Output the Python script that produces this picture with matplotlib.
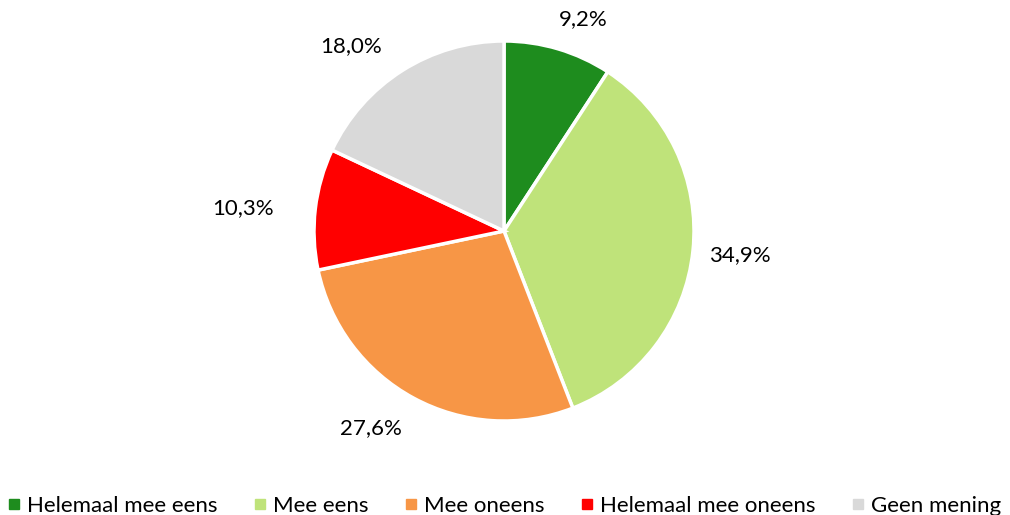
import matplotlib
matplotlib.use('Agg')
import matplotlib.pyplot as plt
from matplotlib.lines import Line2D
import numpy as np

categories = ['Helemaal mee eens', 'Mee eens', 'Mee oneens', 'Helemaal mee oneens', 'Geen mening']
values = [9.2, 34.9, 27.6, 10.3, 18.0]
colors = ['#1E8C1E', '#BFE37A', '#F79646', '#FF0000', '#D9D9D9']
# label placement (distance in radii, angle nudge in degrees)
label_dist = [1.19, 1.25, 1.25, 1.38, 1.26]
label_nudge = [-4, 0, -5.6, 1.7, 7.2]

plt.rcParams['font.family'] = ['Lato', 'DejaVu Sans']

fig = plt.figure(figsize=(10.1, 5.15), dpi=100)
ax = fig.add_axes([(504 - 190) / 1010, (515 - 231 - 190) / 515, 380 / 1010, 380 / 515])

wedges, texts = ax.pie(values, colors=colors, startangle=90, counterclock=False,
                       wedgeprops=dict(edgecolor='white', linewidth=2.5))
ax.set_aspect('equal')
ax.set_xlim(-1, 1)
ax.set_ylim(-1, 1)

cum = 0
for v, d, n in zip(values, label_dist, label_nudge):
    mid = np.deg2rad(90 - 360 * (cum + v / 2) / sum(values) + n)
    cum += v
    ax.text(d * np.cos(mid), d * np.sin(mid), ('%.1f%%' % v).replace('.', ','),
            ha='center', va='center', fontsize=16, color='#000000')

handles = [Line2D([0], [0], marker='s', linestyle='', markersize=7,
                  markerfacecolor=c, markeredgecolor=c) for c in colors]
fig.legend(handles, categories, loc='lower center', bbox_to_anchor=(0.5, -0.04), ncol=5,
           frameon=False, fontsize=16, handlelength=0.5, handletextpad=0.35,
           columnspacing=1.65)

fig.savefig('out.png', dpi=100)
